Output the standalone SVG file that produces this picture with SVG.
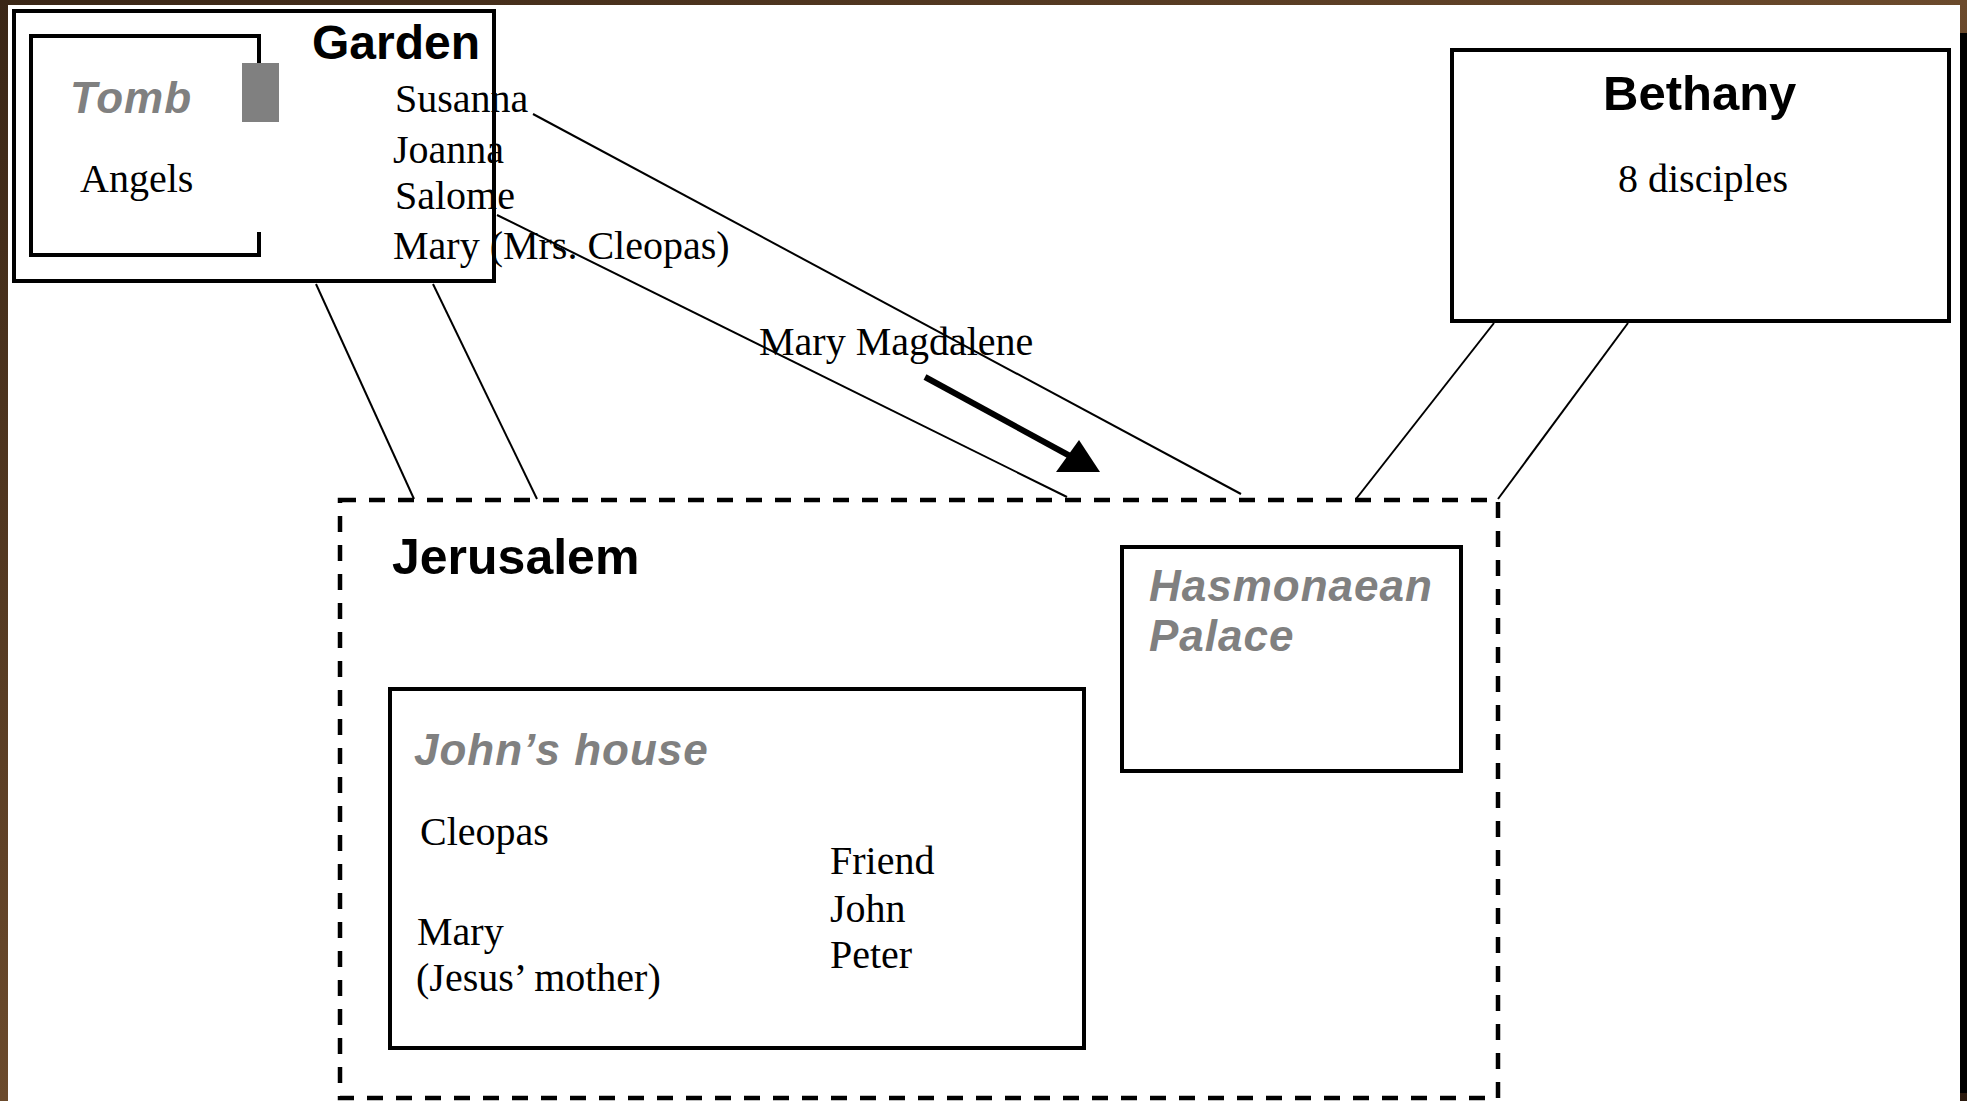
<svg xmlns="http://www.w3.org/2000/svg" width="1967" height="1101" viewBox="0 0 1967 1101">
<defs>
<linearGradient id="bg" x1="0" y1="0" x2="1" y2="1">
<stop offset="0" stop-color="#3a2616"/>
<stop offset="0.5" stop-color="#6b4a2c"/>
<stop offset="1" stop-color="#2a1a0e"/>
</linearGradient>
<style>
.box{fill:none;stroke:#000;stroke-width:4}
.dash{fill:none;stroke:#000;stroke-width:4.5;stroke-dasharray:16 13}
.ln{fill:none;stroke:#000;stroke-width:2}
.title{font-family:"Liberation Sans",Arial,sans-serif;font-weight:bold;fill:#000}
.place{font-family:"Liberation Sans",Arial,sans-serif;font-weight:bold;font-style:italic;fill:#808080;font-size:44px;letter-spacing:1px}
.name{font-family:"Liberation Serif","Times New Roman",serif;font-size:40px;fill:#000}
</style>
</defs>
<rect x="0" y="0" width="1967" height="1101" fill="url(#bg)"/>
<rect x="1960" y="33" width="7" height="1060" fill="#000"/>
<rect x="8" y="5" width="1952" height="1096" fill="#fff"/>

<g id="garden">
<rect class="box" x="14" y="11" width="480" height="270"/>
<text class="title" x="312" y="59" font-size="48">Garden</text>
<text class="name" x="395" y="112">Susanna</text>
<text class="name" x="393" y="163">Joanna</text>
<text class="name" x="395" y="209">Salome</text>
<text class="name" x="393" y="259">Mary (Mrs. Cleopas)</text>
</g>

<g id="tomb">
<path class="box" d="M259,63 V36 H31 V255 H259 V232"/>
<rect x="242" y="63" width="37" height="59" fill="#808080"/>
<text class="place" x="70" y="113">Tomb</text>
<text class="name" x="80" y="192">Angels</text>
</g>

<g id="bethany">
<rect class="box" x="1452" y="50" width="497" height="271" stroke-width="5"/>
<text class="title" x="1603" y="110" font-size="49">Bethany</text>
<text class="name" x="1618" y="192">8 disciples</text>
</g>

<g id="jerusalem">
<rect class="dash" x="340" y="500" width="1158" height="598"/>
<text class="title" x="392" y="574" font-size="50">Jerusalem</text>
</g>

<g id="johns-house">
<rect class="box" x="390" y="689" width="694" height="359"/>
<text class="place" x="414" y="765">John’s house</text>
<text class="name" x="420" y="845">Cleopas</text>
<text class="name" x="417" y="945">Mary</text>
<text class="name" x="416" y="991">(Jesus’ mother)</text>
<text class="name" x="830" y="874">Friend</text>
<text class="name" x="830" y="922">John</text>
<text class="name" x="830" y="968">Peter</text>
</g>

<g id="hasmonaean-palace">
<rect class="box" x="1122" y="547" width="339" height="224"/>
<text class="place" x="1149" y="601">Hasmonaean</text>
<text class="place" x="1149" y="651">Palace</text>
</g>

<g id="connectors">
<line class="ln" x1="316" y1="284" x2="414" y2="499"/>
<line class="ln" x1="433" y1="284" x2="537" y2="499"/>
<line class="ln" x1="533" y1="114" x2="1241" y2="494"/>
<line class="ln" x1="497" y1="215" x2="1067" y2="497"/>
<line class="ln" x1="1494" y1="323" x2="1356" y2="499"/>
<line class="ln" x1="1628" y1="323" x2="1498" y2="499"/>
<line x1="925" y1="377" x2="1070" y2="456" stroke="#000" stroke-width="6"/>
<polygon points="1079,440 1100,472 1056,472" fill="#000"/>
<text class="name" x="759" y="355">Mary Magdalene</text>
</g>
</svg>
